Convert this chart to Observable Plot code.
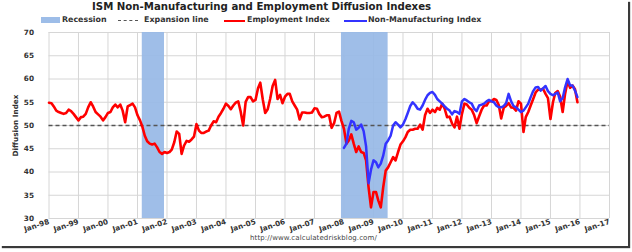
<!DOCTYPE html>
<html><head><meta charset="utf-8">
<script src="https://cdn.jsdelivr.net/npm/d3@7"></script>
<script src="https://cdn.jsdelivr.net/npm/@observablehq/plot@0.6"></script>
<style>
html,body{margin:0;padding:0;background:#fff;}
#wrap{position:relative;width:632px;height:252px;overflow:hidden;font-family:"DejaVu Sans",Verdana,sans-serif;}
#frame{position:absolute;left:0;top:0;width:628px;height:246px;background:#fff;box-shadow:2px 2px 1px #3a3a3a;}
#title{position:absolute;left:92px;top:0px;font-weight:bold;font-size:10.2px;color:#222;white-space:nowrap;line-height:13px;}
.lg{position:absolute;top:14px;height:12px;font-size:7.9px;font-weight:bold;color:#333;line-height:12px;white-space:nowrap;}
.sw{position:absolute;}
#chart{position:absolute;left:0;top:26px;}
#src{position:absolute;top:234px;left:250px;font-size:7px;color:#444;white-space:nowrap;letter-spacing:0.1px;}
</style></head>
<body><div id="wrap">
<div id="frame"></div>
<div id="title">ISM Non-Manufacturing and Employment Diffusion Indexes</div>
<div class="sw" style="left:41px;top:17px;width:19px;height:6px;background:#9dbde8"></div>
<div class="lg" style="left:62px">Recession</div>
<div class="sw" style="left:118px;top:19.5px;width:20px;height:0;border-top:1.5px dashed #555"></div>
<div class="lg" style="left:144px">Expansion line</div>
<div class="sw" style="left:224px;top:19.5px;width:21px;height:2px;background:#ff0000"></div>
<div class="lg" style="left:247px">Employment Index</div>
<div class="sw" style="left:344px;top:19.5px;width:23px;height:2px;background:#3333ff"></div>
<div class="lg" style="left:368px">Non-Manufacturing Index</div>
<div id="chart"></div>
<div id="src">http://www.calculatedriskblog.com/</div>
</div>
<script>
// Employment Index, monthly from Jan 1998
const employment = [
  54.9, 54.8, 54.1, 53.2, 52.9, 52.7, 52.5, 52.7, 53.4, 53.1, 52.5, 51.8,
  51.1, 51.8, 51.9, 52.5, 53.9, 55.0, 54.1, 52.9, 52.4, 51.9, 51.1, 51.8,
  52.7, 52.9, 53.9, 54.5, 53.9, 54.5, 53.2, 50.7, 54.1, 54.4, 54.7, 53.9,
  52.2, 51.1, 49.8, 47.8, 46.6, 46.1, 45.9, 46.1, 45.3, 44.3, 43.9, 44.3,
  44.1, 44.3, 44.8, 46.4, 48.7, 48.2, 43.9, 45.7, 46.7, 46.5, 47.0, 47.6,
  50.3, 48.9, 48.4, 48.4, 48.7, 48.9, 50.0, 50.9, 50.7, 51.9, 52.7, 53.6,
  54.7, 54.2, 53.5, 54.3, 54.9, 55.2, 53.0, 50.0, 55.1, 56.1, 56.1, 55.2,
  55.5, 58.0, 59.2, 55.6, 52.7, 53.5, 55.7, 58.5, 59.8, 55.7, 56.6, 54.8,
  56.2, 56.8, 56.8, 55.2, 54.3, 53.4, 51.3, 52.8, 52.8, 52.7, 52.7, 52.8,
  53.7, 53.6, 52.5, 51.8, 51.9, 52.2, 52.2, 49.5, 50.5, 52.7, 53.0, 51.0,
  49.3, 46.1, 46.8, 48.1, 46.1, 44.3, 45.5, 44.3, 44.1, 42.5, 36.7, 32.4,
  35.7, 35.7, 33.9, 32.4, 36.7, 40.3, 41.0, 42.1, 43.2, 42.5, 44.3, 45.9,
  46.6, 47.5, 48.6, 49.1, 49.1, 49.3, 49.3, 50.2, 49.1, 52.2, 53.6, 52.7,
  53.4, 52.9, 53.8, 53.4, 54.7, 53.6, 51.8, 51.9, 50.4, 49.6, 51.9, 49.3,
  52.5, 54.7, 54.5, 53.8, 53.4, 52.2, 50.5, 52.0, 53.4, 54.3, 54.3, 55.2,
  55.2, 55.7, 55.5, 54.4, 51.5, 53.8, 54.2, 54.8, 53.9, 53.8, 53.2, 55.2,
  54.7, 48.6, 51.8, 52.9, 54.3, 55.7, 57.1, 57.7, 57.7, 57.9, 56.8, 55.9,
  51.4, 55.0, 57.0, 57.4, 56.2, 52.9, 56.8, 59.5, 58.1, 58.6, 57.8, 55.0
];
const employmentStart = [1998, 0];

// Non-Manufacturing Index, monthly from Jan 2008
const nonManufacturing = [
  45.2, 46.1, 49.3, 51.0, 50.7, 49.1, 49.5, 50.2, 48.8, 45.5, 37.6, 40.5,
  42.5, 42.1, 41.0, 41.8, 43.5, 46.1, 46.8, 47.8, 50.0, 50.7, 50.2, 49.6,
  50.2, 51.4, 52.7, 54.2, 55.0, 54.4, 53.6, 53.4, 54.3, 55.5, 56.5, 57.0,
  57.2, 56.6, 55.7, 55.2, 54.7, 54.1, 53.6, 53.2, 52.4, 53.1, 52.9, 52.5,
  55.2, 55.7, 55.4, 55.0, 54.7, 53.6, 53.1, 54.3, 54.5, 54.7, 55.2, 55.5,
  55.2, 55.0, 54.3, 53.9, 53.9, 54.2, 54.8, 56.8, 55.2, 54.2, 53.9, 53.4,
  52.9, 53.2, 53.9, 54.7, 56.1, 57.4, 58.2, 58.3, 57.5, 58.0, 58.5, 57.4,
  56.8, 56.5, 56.8, 57.1, 55.2, 55.9, 58.2, 60.0, 58.6, 58.6, 57.5, 56.1
];
const nonManufacturingStart = [2008, 0];

const recessionStarts = ["2001-03-01", "2007-12-01"];
const recessionEnds   = ["2001-12-01", "2009-07-01"];
const expansionLine = 50;
const yTicks = [30, 35, 40, 45, 50, 55, 60, 65, 70];
const xDomain = ["1998-01-01", "2017-01-01"];

const toSeries = (vals, start) => vals.map((v, i) => ({date: new Date(Date.UTC(start[0], start[1] + i, 1)), value: v}));
const empData = toSeries(employment, employmentStart);
const nmiData = toSeries(nonManufacturing, nonManufacturingStart);
const recData = recessionStarts.map((s, i) => ({start: new Date(s), end: new Date(recessionEnds[i])}));
const xTicks = d3.utcYears(new Date(xDomain[0]), d3.utcDay.offset(new Date(xDomain[1]), 1));

const chart = Plot.plot({
  width: 632,
  height: 208,
  marginLeft: 48.5,
  marginRight: 23,
  marginTop: 6,
  marginBottom: 16,
  style: {fontFamily: "'DejaVu Sans', Verdana, sans-serif", fontSize: "7.3px", fontWeight: "bold", color: "#333", background: "transparent"},
  x: {type: "utc", domain: xDomain.map(d => new Date(d))},
  y: {domain: [30, 70]},
  marks: [
    Plot.gridX(xTicks, {stroke: "#d6d6d6", strokeOpacity: 1, strokeWidth: 1}),
    Plot.gridY(yTicks, {stroke: "#d6d6d6", strokeOpacity: 1, strokeWidth: 1}),
    Plot.rect(recData, {x1: "start", x2: "end", fill: "#97b8e6", fillOpacity: 0.92}),
    Plot.ruleY([expansionLine], {stroke: "#555", strokeWidth: 1.5, strokeDasharray: "4,3"}),
    Plot.lineY(empData, {x: "date", y: "value", stroke: "#ff0000", strokeWidth: 2.6}),
    Plot.lineY(nmiData, {x: "date", y: "value", stroke: "#3333ff", strokeWidth: 2.5}),
    Plot.axisY(yTicks, {tickSize: 0, tickPadding: 15, fill: "#333", label: "Diffusion Index", labelAnchor: "center", labelArrow: "none", labelOffset: 36}),
    Plot.axisX(xTicks, {tickSize: 0, tickPadding: 3, tickRotate: -18, fill: "#333", tickFormat: d => "Jan-" + d3.utcFormat("%y")(d), label: null})
  ]
});
document.getElementById("chart").appendChild(chart);
</script>
</body></html>
